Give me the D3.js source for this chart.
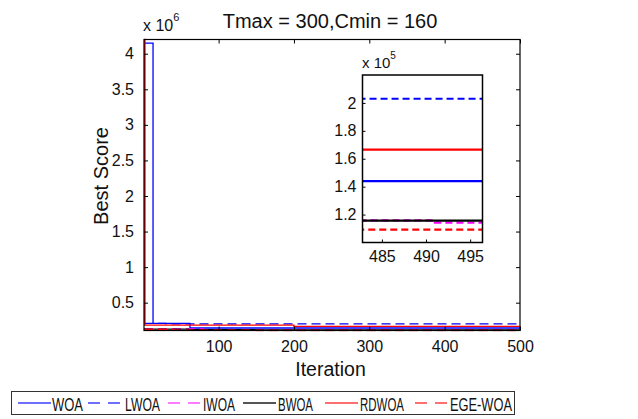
<!DOCTYPE html>
<html>
<head>
<meta charset="utf-8">
<script src="https://cdn.jsdelivr.net/npm/d3@7"></script>
<style>
  body { margin: 0; background: #fff; }
  text { font-family: "Liberation Sans", Arial, sans-serif; fill: #111; }
</style>
</head>
<body>
<svg id="chart" width="638" height="419"></svg>
<script>
// step breakpoints [iteration, best score]
var seriesNames = ["WOA", "LWOA", "IWOA", "BWOA", "RDWOA", "EGE-WOA"];
var woa    = [[1, 4.15e6], [13, 0.21e6], [62, 0.144e6], [500, 0.144e6]];
var lwoa   = [[1, 0.21e6], [30, 0.203e6], [500, 0.203e6]];
var iwoa   = [[1, 0.13e6], [80, 0.118e6], [200, 0.1158e6], [491, 0.1143e6], [500, 0.1143e6]];
var bwoa   = [[1, 0.128e6], [60, 0.12e6], [150, 0.1157e6], [500, 0.1157e6]];
var rdwoa  = [[1, 4.2e6], [2, 0.185e6], [200, 0.1665e6], [500, 0.1665e6]];
var egewoa = [[1, 0.125e6], [40, 0.113e6], [150, 0.1092e6], [500, 0.1092e6]];

var iterTicks = [100, 200, 300, 400, 500];
var scoreTicks = [0.5, 1, 1.5, 2, 2.5, 3, 3.5, 4];      // x 10^6
var insetIterTicks = [485, 490, 495];
var insetScoreTicks = [1.2, 1.4, 1.6, 1.8, 2];          // x 10^5

var colors = ["#0000ff", "#0000ff", "#ff00ff", "#000000", "#ff0000", "#ff0000"];
var dashed = [false, true, true, false, false, true];
var allSeries = [woa, lwoa, iwoa, bwoa, rdwoa, egewoa];

var svg = d3.select("#chart");

// ---- main axes
var m = {left: 144, top: 39.5, right: 520, bottom: 330.5};
var x = d3.scaleLinear().domain([1, 500]).range([m.left, m.right]);
var y = d3.scaleLinear().domain([0.109e6, 4.2e6]).range([m.bottom, m.top]);

svg.append("clipPath").attr("id", "mainClip")
  .append("rect").attr("x", m.left).attr("y", m.top - 1)
  .attr("width", m.right - m.left).attr("height", m.bottom - m.top + 2);

var line = d3.line().curve(d3.curveStepAfter)
  .x(function(d) { return x(d[0]); })
  .y(function(d) { return y(d[1]); });

var gLines = svg.append("g").attr("clip-path", "url(#mainClip)");
allSeries.forEach(function(s, i) {
  gLines.append("path").attr("d", line(s))
    .attr("fill", "none").attr("stroke", colors[i]).attr("stroke-width", 1.3)
    .attr("stroke-dasharray", dashed[i] ? "9,5" : null);
});

// axes with inward ticks on all sides
svg.append("g").attr("transform", "translate(0," + m.bottom + ")")
  .call(d3.axisBottom(x).tickValues(iterTicks).tickSizeInner(-4).tickSizeOuter(0).tickPadding(10))
  .call(function(g) { g.select(".domain").remove(); });
svg.append("g").attr("transform", "translate(0," + m.top + ")")
  .call(d3.axisTop(x).tickValues(iterTicks).tickSizeInner(-4).tickSizeOuter(0).tickFormat(""))
  .call(function(g) { g.select(".domain").remove(); });
svg.append("g").attr("transform", "translate(" + m.left + ",0)")
  .call(d3.axisLeft(y).tickValues(scoreTicks.map(function(v) { return v * 1e6; }))
    .tickFormat(function(v) { return d3.format("")(+(v / 1e6).toFixed(1)); })
    .tickSizeInner(-4).tickSizeOuter(0).tickPadding(10))
  .call(function(g) { g.select(".domain").remove(); });
svg.append("g").attr("transform", "translate(" + m.right + ",0)")
  .call(d3.axisRight(y).tickValues(scoreTicks.map(function(v) { return v * 1e6; }))
    .tickSizeInner(-4).tickSizeOuter(0).tickFormat(""))
  .call(function(g) { g.select(".domain").remove(); });

svg.selectAll(".tick text").style("font-size", "16px")
  .style("font-family", "'Liberation Sans', Arial, sans-serif").attr("fill", "#111");
svg.selectAll(".tick line").attr("stroke", "#000");

// box
svg.append("rect").attr("x", m.left).attr("y", m.top)
  .attr("width", m.right - m.left).attr("height", m.bottom - m.top)
  .attr("fill", "none").attr("stroke", "#000").attr("stroke-width", 1.2);

// re-draw red start over left edge
gLines.append("path").attr("d", line(rdwoa.slice(0, 2)))
  .attr("fill", "none").attr("stroke", "#ff0000").attr("stroke-width", 1.3);

// exponent label
var ex = svg.append("text").attr("x", 143).attr("y", 31).style("font-size", "16px");
ex.append("tspan").text("x 10");
ex.append("tspan").attr("dy", -10).style("font-size", "11px").text("6");

svg.append("text").attr("x", 330).attr("y", 27.5).attr("text-anchor", "middle")
  .style("font-size", "20px").text("Tmax = 300,Cmin = 160");
svg.append("text").attr("x", 330.5).attr("y", 375.5).attr("text-anchor", "middle")
  .style("font-size", "19.5px").text("Iteration");
svg.append("text").attr("transform", "translate(108,176) rotate(-90)")
  .attr("text-anchor", "middle").style("font-size", "20px").text("Best Score");

// ---- inset
var n = {left: 362.5, top: 75, right: 482.5, bottom: 242.5};
var xi = d3.scaleLinear().domain([482.8, 496.4]).range([n.left, n.right]);
var yi = d3.scaleLinear().domain([1.0e5, 2.2e5]).range([n.bottom, n.top]);

svg.append("rect").attr("x", n.left).attr("y", n.top)
  .attr("width", n.right - n.left).attr("height", n.bottom - n.top).attr("fill", "#fff");

svg.append("clipPath").attr("id", "insetClip")
  .append("rect").attr("x", n.left).attr("y", n.top)
  .attr("width", n.right - n.left).attr("height", n.bottom - n.top);

var lineI = d3.line().curve(d3.curveStepAfter)
  .x(function(d) { return xi(d[0]); })
  .y(function(d) { return yi(d[1]); });

var gIn = svg.append("g").attr("clip-path", "url(#insetClip)");
allSeries.forEach(function(s, i) {
  gIn.append("path").attr("d", lineI(s))
    .attr("fill", "none").attr("stroke", colors[i]).attr("stroke-width", 2.2)
    .attr("stroke-dasharray", dashed[i] ? "7,4" : null);
});

var gi1 = svg.append("g").attr("class", "inset").attr("transform", "translate(0," + n.bottom + ")")
  .call(d3.axisBottom(xi).tickValues(insetIterTicks).tickSizeInner(-3).tickSizeOuter(0).tickPadding(8));
var gi2 = svg.append("g").attr("class", "inset").attr("transform", "translate(" + n.left + ",0)")
  .call(d3.axisLeft(yi).tickValues(insetScoreTicks.map(function(v) { return v * 1e5; }))
    .tickFormat(function(v) { return d3.format("")(+(v / 1e5).toFixed(1)); })
    .tickSizeInner(-3).tickSizeOuter(0).tickPadding(6));
[gi1, gi2].forEach(function(g) {
  g.select(".domain").remove();
  g.selectAll(".tick text").style("font-size", "16px")
    .style("font-family", "'Liberation Sans', Arial, sans-serif").attr("fill", "#111");
});
svg.append("rect").attr("x", n.left).attr("y", n.top)
  .attr("width", n.right - n.left).attr("height", n.bottom - n.top)
  .attr("fill", "none").attr("stroke", "#000").attr("stroke-width", 1.5);

var ex2 = svg.append("text").attr("x", 362).attr("y", 68).style("font-size", "15px");
ex2.append("tspan").text("x 10");
ex2.append("tspan").attr("dy", -9).style("font-size", "10px").text("5");

// ---- legend
var leg = svg.append("g");
leg.append("rect").attr("x", 11.5).attr("y", 391.5).attr("width", 503).attr("height", 23)
  .attr("fill", "#fff").attr("stroke", "#333").attr("stroke-width", 1);
var legLineX = [18, 88, 168, 243, 325, 415];
var legTextX = [52, 125, 203, 278, 360, 450];
var legTextW = [31, 35, 32, 35, 44, 62];
var legColors = ["#6f6fff", "#6f6fff", "#ff7cff", "#555555", "#ff6f6f", "#ff6f6f"];
seriesNames.forEach(function(name, i) {
  leg.append("line").attr("x1", legLineX[i]).attr("x2", legLineX[i] + 33)
    .attr("y1", 403).attr("y2", 403)
    .attr("stroke", legColors[i]).attr("stroke-width", 1.8)
    .attr("stroke-dasharray", dashed[i] ? "12,8" : null);
  leg.append("text").attr("x", legTextX[i]).attr("y", 410.5)
    .attr("textLength", legTextW[i]).attr("lengthAdjust", "spacingAndGlyphs")
    .style("font-size", "18px").text(name);
});
</script>
</body>
</html>
